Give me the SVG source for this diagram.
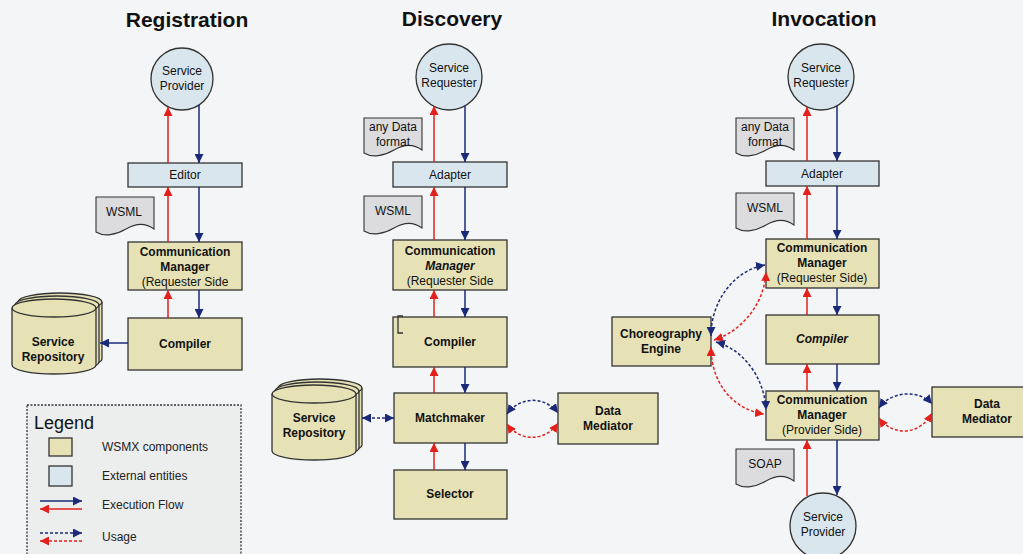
<svg xmlns="http://www.w3.org/2000/svg" xmlns:xlink="http://www.w3.org/1999/xlink" width="1023" height="554" viewBox="0 0 1023 554">
<style>
.bg{fill:#f4f5f6}
.title{font-family:"Liberation Sans",Arial,sans-serif;font-size:21px;font-weight:bold;fill:#111;text-anchor:middle}
.comp{fill:#e6e2b6;stroke:#333;stroke-width:1.3}
.ext{fill:#d9e6ee;stroke:#333;stroke-width:1.3}
.doc{fill:#dcdcde;stroke:#333;stroke-width:1.1}
.t{font-family:"Liberation Sans",Arial,sans-serif;font-size:12px;fill:#111;text-anchor:middle}
.b{font-weight:bold}
.i{font-style:italic}
.lt{font-family:"Liberation Sans",Arial,sans-serif;font-size:12px;fill:#222}
.red{stroke:#e3201b;stroke-width:1.5;fill:none}
.blue{stroke:#1b2a78;stroke-width:1.5;fill:none}
.dash{stroke-dasharray:3 2}
.re{marker-end:url(#ahR)}
.be{marker-end:url(#ahB)}
.rs{marker-start:url(#ahR)}
.bs{marker-start:url(#ahB)}
</style>
<defs>
<marker id="ahR" viewBox="0 0 10 10" refX="10" refY="5" markerWidth="9" markerHeight="9" markerUnits="userSpaceOnUse" orient="auto-start-reverse"><path d="M0,0 L10,5 L0,10 z" fill="#e3201b"/></marker>
<marker id="ahB" viewBox="0 0 10 10" refX="10" refY="5" markerWidth="9" markerHeight="9" markerUnits="userSpaceOnUse" orient="auto-start-reverse"><path d="M0,0 L10,5 L0,10 z" fill="#1b2a78"/></marker>
<path id="docshape" d="M0,0 H58 V32 C50,26 40,26 30,32 C20,38 8,40 0,35 Z"/>
<g id="cyl">
<path d="M0,9 A42,9 0 0 1 84,9 V66 A42,9 0 0 1 0,66 Z"/>
<path d="M0,9 A42,9 0 0 0 84,9" fill="none"/>
</g>
</defs>
<rect class="bg" x="0" y="0" width="1023" height="554"/>

<text class="title" x="187" y="27">Registration</text>
<text class="title" x="452" y="26">Discovery</text>
<text class="title" x="824" y="26">Invocation</text>

<!-- Registration -->
<g id="reg-provider"><circle class="ext" cx="182" cy="79" r="31"/><text class="t" x="182" y="75">Service</text><text class="t" x="182" y="90">Provider</text></g>
<g id="reg-editor"><rect class="ext" x="128" y="163" width="114" height="24"/><text class="t" x="185" y="179">Editor</text></g>
<g id="reg-wsml"><use xlink:href="#docshape" class="doc" x="96" y="197"/><text class="t" x="124" y="216">WSML</text></g>
<g id="reg-cm"><rect class="comp" x="128" y="242" width="114" height="48"/><text class="t b" x="185" y="256">Communication</text><text class="t b" x="185" y="271">Manager</text><text class="t" x="185" y="286">(Requester Side</text></g>
<g id="reg-compiler"><rect class="comp" x="128" y="318" width="114" height="52"/><text class="t b" x="185" y="348">Compiler</text></g>
<g id="reg-repo"><use class="comp" xlink:href="#cyl" x="18" y="293"/><use class="comp" xlink:href="#cyl" x="15" y="296"/><use class="comp" xlink:href="#cyl" x="12" y="299"/><text class="t b" x="53" y="346">Service</text><text class="t b" x="53" y="361">Repository</text></g>

<!-- Legend -->
<g id="legend">
<rect x="27" y="405" width="214" height="160" fill="#eceded" stroke="#333" stroke-width="1.3" stroke-dasharray="2 1.5"/>
<text x="34" y="429" style="font-family:'Liberation Sans',Arial,sans-serif;font-size:18px;fill:#111">Legend</text>
<rect class="comp" x="49" y="438" width="23" height="18"/>
<text class="lt" x="102" y="451">WSMX components</text>
<rect class="ext" x="49" y="466" width="23" height="20"/>
<text class="lt" x="102" y="480">External entities</text>
<path class="blue be" d="M40,501 H82"/>
<path class="red re" d="M82,509 H40"/>
<text class="lt" x="102" y="509">Execution Flow</text>
<path class="blue dash be" d="M40,533 H82"/>
<path class="red dash re" d="M82,541 H40"/>
<text class="lt" x="102" y="541">Usage</text>
</g>

<!-- Discovery -->
<g id="dis-requester"><circle class="ext" cx="449" cy="77" r="33"/><text class="t" x="449" y="72">Service</text><text class="t" x="449" y="87">Requester</text></g>
<g id="dis-anydata"><use xlink:href="#docshape" class="doc" x="364" y="118"/><text class="t" x="393" y="131">any Data</text><text class="t" x="393" y="146">format</text></g>
<g id="dis-adapter"><rect class="ext" x="393" y="162" width="114" height="25"/><text class="t" x="450" y="179">Adapter</text></g>
<g id="dis-wsml"><use xlink:href="#docshape" class="doc" x="364" y="196"/><text class="t" x="393" y="215">WSML</text></g>
<g id="dis-cm"><rect class="comp" x="393" y="240" width="114" height="50"/><text class="t b" x="450" y="255">Communication</text><text class="t b i" x="450" y="270">Manager</text><text class="t" x="450" y="285">(Requester Side</text></g>
<g id="dis-compiler"><rect class="comp" x="393" y="317" width="114" height="50"/><path d="M403,316 H398 V333 H403" fill="none" stroke="#333" stroke-width="1.3"/><text class="t b" x="450" y="346">Compiler</text></g>
<g id="dis-repo"><use class="comp" xlink:href="#cyl" x="278" y="379"/><use class="comp" xlink:href="#cyl" x="275" y="382"/><use class="comp" xlink:href="#cyl" x="272" y="385"/><text class="t b" x="314" y="422">Service</text><text class="t b" x="314" y="437">Repository</text></g>
<g id="dis-matchmaker"><rect class="comp" x="394" y="393" width="113" height="50"/><text class="t b" x="450" y="422">Matchmaker</text></g>
<g id="dis-mediator"><rect class="comp" x="558" y="393" width="100" height="51"/><text class="t b" x="608" y="415">Data</text><text class="t b" x="608" y="430">Mediator</text></g>
<g id="dis-selector"><rect class="comp" x="394" y="470" width="113" height="49"/><text class="t b" x="450" y="498">Selector</text></g>

<!-- Invocation -->
<g id="inv-requester"><circle class="ext" cx="821" cy="77" r="33"/><text class="t" x="821" y="72">Service</text><text class="t" x="821" y="87">Requester</text></g>
<g id="inv-anydata"><use xlink:href="#docshape" class="doc" x="736" y="118"/><text class="t" x="765" y="131">any Data</text><text class="t" x="765" y="146">format</text></g>
<g id="inv-adapter"><rect class="ext" x="766" y="161" width="113" height="25"/><text class="t" x="822" y="178">Adapter</text></g>
<g id="inv-wsml"><use xlink:href="#docshape" class="doc" x="736" y="193"/><text class="t" x="765" y="212">WSML</text></g>
<g id="inv-cmreq"><rect class="comp" x="766" y="239" width="113" height="49"/><text class="t b" x="822" y="252">Communication</text><text class="t b" x="822" y="267">Manager</text><text class="t" x="822" y="282">(Requester Side)</text></g>
<g id="inv-choreo"><rect class="comp" x="612" y="317" width="99" height="49"/><text class="t b" x="661" y="338">Choreography</text><text class="t b" x="661" y="353">Engine</text></g>
<g id="inv-compiler"><rect class="comp" x="766" y="315" width="113" height="49"/><text class="t b i" x="822" y="343">Compiler</text></g>
<g id="inv-cmprov"><rect class="comp" x="766" y="391" width="113" height="49"/><text class="t b" x="822" y="404">Communication</text><text class="t b" x="822" y="419">Manager</text><text class="t" x="822" y="434">(Provider Side)</text></g>
<g id="inv-mediator"><rect class="comp" x="932" y="387" width="100" height="50"/><text class="t b" x="987" y="408">Data</text><text class="t b" x="987" y="423">Mediator</text></g>
<g id="inv-soap"><use xlink:href="#docshape" class="doc" x="736" y="449"/><text class="t" x="765" y="468">SOAP</text></g>
<g id="inv-provider"><circle class="ext" cx="823" cy="526" r="33"/><text class="t" x="823" y="521">Service</text><text class="t" x="823" y="536">Provider</text></g>

<!-- Connectors -->
<g id="connectors">
<!-- Registration -->
<path class="red re" d="M168,163 V107"/>
<path class="blue be" d="M199,105 V163"/>
<path class="red re" d="M168,242 V187"/>
<path class="blue be" d="M199,187 V242"/>
<path class="red re" d="M168,318 V290"/>
<path class="blue be" d="M199,290 V318"/>
<path class="blue be" d="M128,343 H100"/>
<!-- Discovery -->
<path class="red re" d="M434,162 V106"/>
<path class="blue be" d="M465,106 V162"/>
<path class="red re" d="M434,240 V187"/>
<path class="blue be" d="M465,187 V240"/>
<path class="red re" d="M434,317 V290"/>
<path class="blue be" d="M465,290 V317"/>
<path class="red re" d="M434,393 V367"/>
<path class="blue be" d="M465,367 V393"/>
<path class="red re" d="M434,470 V443"/>
<path class="blue be" d="M465,443 V470"/>
<path class="blue dash bs be" d="M362,418 H394"/>
<path class="blue dash bs be" d="M507,414 C520,396 545,396 558,413"/>
<path class="red dash rs re" d="M507,424 C520,442 545,442 558,423"/>
<!-- Invocation -->
<path class="red re" d="M807,161 V107"/>
<path class="blue be" d="M837,106 V161"/>
<path class="red re" d="M807,239 V186"/>
<path class="blue be" d="M837,186 V239"/>
<path class="red re" d="M807,315 V288"/>
<path class="blue be" d="M837,288 V315"/>
<path class="red re" d="M807,391 V364"/>
<path class="blue be" d="M837,364 V391"/>
<path class="red re" d="M807,496 V440"/>
<path class="blue be" d="M837,440 V495"/>
<path class="blue dash bs be" d="M879,408 C892,390 920,390 932,404"/>
<path class="red dash rs re" d="M879,418 C892,436 920,436 932,413"/>
<path class="blue dash bs be" d="M711,336 C711,300 735,270 765,265"/>
<path class="red dash rs re" d="M714,340 C745,330 765,300 766,272"/>
<path class="red dash rs re" d="M711,347 C711,385 735,410 764,414"/>
<path class="blue dash bs be" d="M716,342 C745,350 765,380 766,410"/>
</g>
</svg>
